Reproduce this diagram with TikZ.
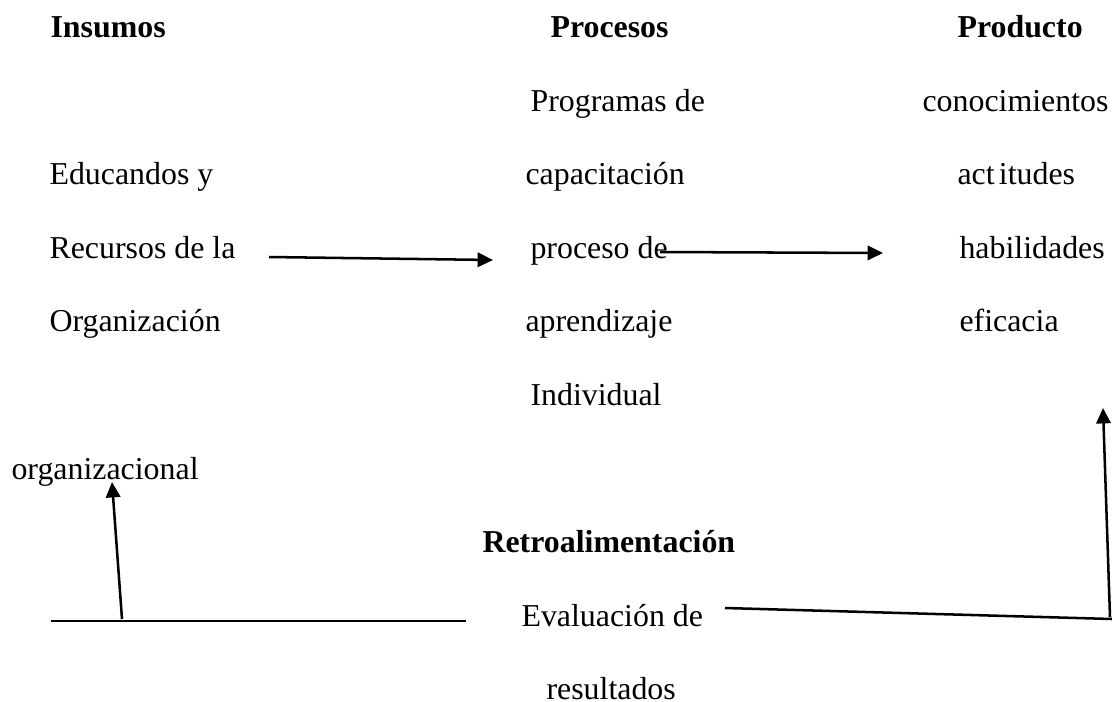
\documentclass[tikz,border=0pt]{standalone}
\usepackage{fontspec}
\setmainfont{Liberation Serif}
\usetikzlibrary{arrows.meta}
\begin{document}
\begin{tikzpicture}[x=0.3764pt,y=-0.3764pt,
  txt/.style={anchor=base west,inner sep=0pt,font=\fontsize{12}{14}\selectfont},
  head/.style={txt,font=\fontsize{12}{14}\selectfont\bfseries},
  conn/.style={line width=0.95pt},
  arr/.style={conn,-{Triangle[length=5.8pt,width=5.4pt]}}]
\useasboundingbox (0,0) rectangle (1112,702);
% headers
\node[head] (hins) at (50,37) {Insumos};
\node[head] (hproc) at (550,37) {Procesos};
\node[head] (hprod) at (957,37) {Producto};
% inputs
\node[txt] (in1) at (49,184) {Educandos y};
\node[txt] (in2) at (49,258) {Recursos de la};
\node[txt] (in3) at (49,331) {Organización};
\node[txt] (in4) at (11,479) {organizacional};
% processes
\node[txt] (p1) at (530,111) {Programas de};
\node[txt] (p2) at (525,184) {capacitación};
\node[txt] (p3) at (530,258) {proceso de};
\node[txt] (p4) at (525,331) {aprendizaje};
\node[txt] (p5) at (530,405) {Individual};
% products
\node[txt] (o1) at (922,111) {conocimientos};
\node[txt] (o2) at (957,184) {act\kern1.6pt itudes};
\node[txt] (o3) at (959,258) {habilidades};
\node[txt] (o4) at (959,331) {eficacia};
% feedback
\node[head] (fb) at (482,552) {Retroalimentación};
\node[txt] (ev1) at (521,626) {Evaluación de};
\node[txt] (ev2) at (546,699) {resultados};
% connectors
\coordinate (a1s) at (269,257);
\coordinate (a1e) at (493,260);
\coordinate (a2s) at (660,252);
\coordinate (a2e) at (883,253);
\coordinate (lls) at (51,621);
\coordinate (lle) at (466,621);
\coordinate (lus) at (122,619);
\coordinate (lue) at (112,482);
\coordinate (rls) at (725,608);
\coordinate (rle) at (1112,619);
\coordinate (rus) at (1110,617);
\coordinate (rue) at (1103,408);
\draw[arr] (a1s) -- (a1e);
\draw[arr] (a2s) -- (a2e);
\draw[conn] (lls) -- (lle);
\draw[arr] (lus) -- (lue);
\draw[conn] (rls) -- (rle);
\draw[arr] (rus) -- (rue);
\end{tikzpicture}
\end{document}
